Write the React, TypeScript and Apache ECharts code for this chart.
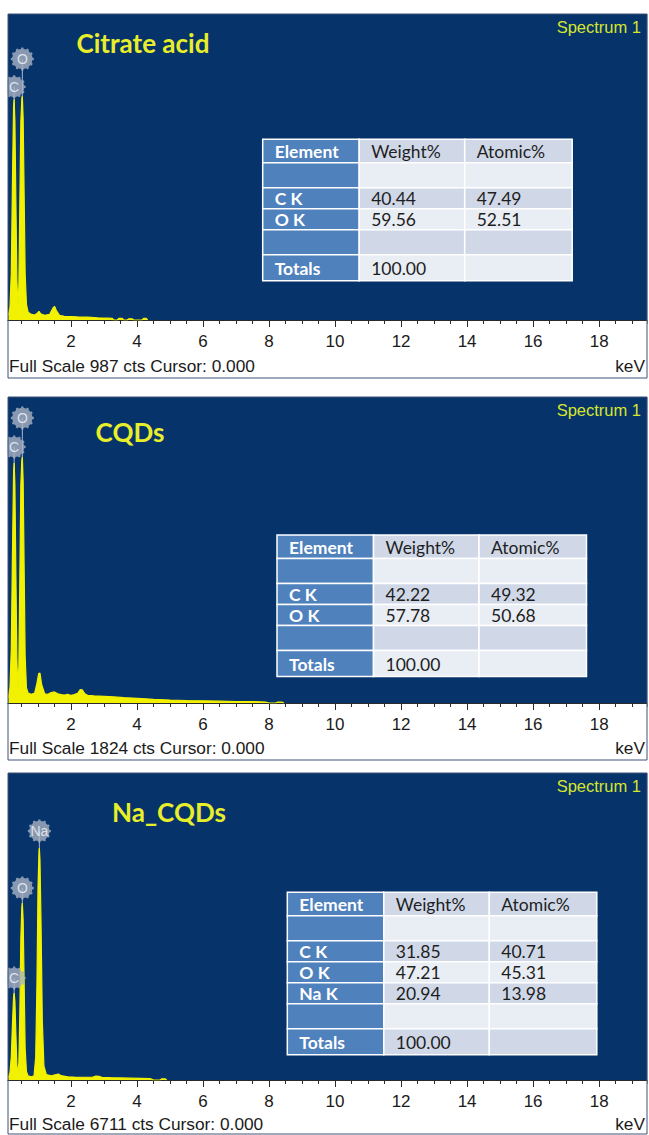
import React, { useEffect, useRef } from "react";
import * as echarts from "echarts";

// ---------------- DATA ----------------
const panelTitles = ["Citrate acid", "CQDs", "Na_CQDs"];
const fullScales = [987, 1824, 6711];
const xTicks = [2, 4, 6, 8, 10, 12, 14, 16, 18];
const X_MAX = 19.45;

// [keV, counts]
const citrateSpectrum: [number, number][] = [
  [0.1, 15], [0.15, 40], [0.19, 150], [0.23, 480], [0.26, 690], [0.277, 712], [0.3, 640], [0.33, 380],
  [0.36, 130], [0.39, 45], [0.42, 110], [0.45, 380], [0.48, 640], [0.51, 715], [0.525, 722], [0.55, 650],
  [0.58, 400], [0.61, 150], [0.65, 50], [0.7, 25], [0.8, 18], [0.9, 16], [0.98, 22], [1.03, 28],
  [1.08, 20], [1.2, 15], [1.35, 18], [1.45, 38], [1.5, 44], [1.56, 30], [1.65, 15], [1.8, 12],
  [2.0, 11], [2.2, 10], [2.5, 9], [2.8, 7], [3.1, 6], [3.25, 5], [3.3, 0], [3.4, 0], [3.45, 5],
  [3.55, 5], [3.6, 0], [3.7, 0], [3.75, 4], [3.85, 4], [3.9, 0], [4.15, 0], [4.2, 5], [4.28, 5], [4.32, 0],
];

const cqdSpectrum: [number, number][] = [
  [0.1, 30], [0.15, 90], [0.19, 320], [0.23, 950], [0.26, 1380], [0.277, 1430], [0.3, 1300], [0.33, 760],
  [0.36, 260], [0.39, 85], [0.42, 220], [0.45, 760], [0.48, 1300], [0.51, 1450], [0.525, 1466], [0.55, 1320],
  [0.58, 800], [0.61, 280], [0.65, 90], [0.7, 60], [0.8, 52], [0.9, 60], [0.97, 120], [1.02, 175],
  [1.06, 178], [1.11, 110], [1.2, 55], [1.3, 52], [1.4, 62], [1.5, 66], [1.6, 55], [1.7, 50],
  [1.8, 47], [1.9, 52], [2.0, 45], [2.1, 50], [2.2, 58], [2.28, 80], [2.34, 78], [2.42, 55],
  [2.5, 46], [2.7, 42], [3.0, 40], [3.3, 36], [3.6, 32], [4.0, 28], [4.5, 22], [5.0, 18],
  [5.5, 15], [6.0, 13], [6.5, 11], [7.0, 9], [7.5, 8], [7.9, 6], [8.0, 0], [8.2, 0], [8.25, 5], [8.4, 5], [8.45, 0],
];

const naCqdSpectrum: [number, number][] = [
  [0.1, 50], [0.15, 160], [0.19, 500], [0.23, 1300], [0.26, 1820], [0.277, 1900], [0.3, 1720], [0.33, 1000],
  [0.36, 320], [0.39, 130], [0.42, 380], [0.45, 1500], [0.48, 3100], [0.51, 3780], [0.525, 3870], [0.55, 3500],
  [0.58, 2100], [0.61, 700], [0.65, 180], [0.7, 90], [0.8, 70], [0.88, 90], [0.93, 500], [0.97, 2200],
  [1.0, 4200], [1.03, 5000], [1.041, 5070], [1.06, 4800], [1.09, 3500], [1.13, 1300], [1.18, 300], [1.25, 120],
  [1.4, 90], [1.55, 120], [1.62, 130], [1.7, 95], [1.9, 70], [2.1, 65], [2.4, 60], [2.65, 60],
  [2.75, 85], [2.85, 80], [2.95, 55], [3.2, 50], [3.5, 45], [3.8, 40], [4.1, 35], [4.4, 30], [4.5, 0],
  [4.7, 0], [4.75, 25], [4.85, 25], [4.9, 0],
];

const spectra = [citrateSpectrum, cqdSpectrum, naCqdSpectrum];

// element markers: [label, keV, marker height (cts)]
const citrateMarkers: [string, number, number][] = [["O", 0.525, 842], ["C", 0.277, 752]];
const cqdMarkers: [string, number, number][] = [["O", 0.525, 1699], ["C", 0.277, 1526]];
const naCqdMarkers: [string, number, number][] = [["Na", 1.041, 5443], ["O", 0.525, 4197], ["C", 0.277, 2230]];
const markers = [citrateMarkers, cqdMarkers, naCqdMarkers];

// tables: [element, weight%, atomic%]
const tableHeader = ["Element", "Weight%", "Atomic%"];
const citrateTable = [["C K", "40.44", "47.49"], ["O K", "59.56", "52.51"]];
const cqdTable = [["C K", "42.22", "49.32"], ["O K", "57.78", "50.68"]];
const naCqdTable = [["C K", "31.85", "40.71"], ["O K", "47.21", "45.31"], ["Na K", "20.94", "13.98"]];
const tables = [citrateTable, cqdTable, naCqdTable];
const totals = ["Totals", "100.00", ""];
const cursorText = "Cursor: 0.000";

// ---------------- LAYOUT ----------------
const layouts = [
  { blueTop: 14, axisY: 320, frameBottom: 378, fullY: 366, titleX: 143, titleY: 43, specY: 27, tableX: 262.7, tableY: 139.3 },
  { blueTop: 397, axisY: 703, frameBottom: 760, fullY: 748, titleX: 130, titleY: 432, specY: 410, tableX: 277, tableY: 535 },
  { blueTop: 773, axisY: 1080, frameBottom: 1134, fullY: 1124, titleX: 169, titleY: 812, specY: 786, tableX: 287.3, tableY: 892.3 },
];

const BLUE = "#07336b";
const YELLOW = "#f2f200";
const TITLE_YELLOW = "#e8ee2a";
const AXIS_COLOR = "#2a2a2a";

function gearPath(): string {
  const n = 12;
  const ro = 50;
  const ri = 44;
  const step = (2 * Math.PI) / n;
  const pts: string[] = [];
  for (let i = 0; i < n; i++) {
    const a = i * step;
    const w1 = step * 0.16;
    const w2 = step * 0.26;
    const seq: [number, number][] = [
      [a - w2, ri],
      [a - w1, ro],
      [a + w1, ro],
      [a + w2, ri],
    ];
    seq.forEach(([ang, r]) => {
      pts.push(`${(50 + r * Math.cos(ang)).toFixed(2)} ${(50 + r * Math.sin(ang)).toFixed(2)}`);
    });
  }
  return "path://M" + pts.join(" L") + " Z";
}

function buildTable(x0: number, y0: number, rows: string[][]) {
  const allRows = [tableHeader, ["", "", ""], ...rows, ["", "", ""], totals];
  const heights = [23.5, 25, ...rows.map(() => 21), 25, 26];
  const widths = [96.5, 105.5, 107.5];
  const els: any[] = [];
  let y = y0;
  allRows.forEach((r, ri) => {
    let x = x0;
    r.forEach((txt, ci) => {
      const fill = ci === 0 ? "#4f81bd" : ri % 2 === 0 ? "#d0d8e8" : "#e9edf4";
      els.push({
        type: "rect",
        z: 10,
        shape: { x, y, width: widths[ci], height: heights[ri] },
        style: { fill, stroke: "#ffffff", lineWidth: 1.5 },
      });
      if (txt) {
        els.push({
          type: "text",
          z: 11,
          x: x + 12,
          y: y + heights[ri] / 2 + 0.5,
          style: {
            text: txt,
            fill: ci === 0 ? "#ffffff" : "#1e1e1e",
            font: `${ci === 0 ? "bold " : ""}17.5px Lato`,
            align: "left",
            verticalAlign: "middle",
          },
        });
      }
      x += widths[ci];
    });
    y += heights[ri];
  });
  return els;
}

export default function App() {
  const ref = useRef<HTMLDivElement>(null);
  useEffect(() => {
    document.body.style.margin = "0";
    if (!ref.current) return;
    const chart = echarts.init(ref.current, undefined, { renderer: "svg" });
    const gear = gearPath();

    const graphic: any[] = [];
    layouts.forEach((l, i) => {
      graphic.push({
        type: "rect",
        z: 0,
        shape: { x: 8, y: l.blueTop, width: 639.5, height: l.axisY - l.blueTop },
        style: { fill: BLUE },
      });
      graphic.push({
        type: "rect",
        z: 20,
        shape: { x: 0, y: l.blueTop - 2, width: 7.5, height: l.frameBottom - l.blueTop + 4 },
        style: { fill: "#ffffff" },
      });
      graphic.push({
        type: "rect",
        z: 20,
        shape: { x: 647.5, y: l.blueTop - 2, width: 10, height: l.frameBottom - l.blueTop + 4 },
        style: { fill: "#ffffff" },
      });
      graphic.push({
        type: "rect",
        z: 21,
        shape: { x: 8, y: l.blueTop, width: 639, height: l.frameBottom - l.blueTop },
        style: { fill: "none", stroke: "#3d5378", lineWidth: 1 },
      });
      graphic.push({
        type: "text",
        z: 12,
        x: l.titleX,
        y: l.titleY,
        style: {
          text: panelTitles[i],
          fill: TITLE_YELLOW,
          font: "bold 26px Lato",
          align: "center",
          verticalAlign: "middle",
        },
      });
      graphic.push({
        type: "text",
        z: 12,
        x: 641,
        y: l.specY,
        style: {
          text: "Spectrum 1",
          fill: "#d6e62c",
          font: '16.5px "Liberation Sans"',
          align: "right",
          verticalAlign: "middle",
        },
      });
      graphic.push({
        type: "text",
        z: 22,
        x: 9,
        y: l.fullY,
        style: {
          text: `Full Scale ${fullScales[i]} cts ${cursorText}`,
          fill: "#1a1a1a",
          font: '17.3px "Liberation Sans"',
          align: "left",
          verticalAlign: "middle",
        },
      });
      graphic.push({
        type: "text",
        z: 22,
        x: 645,
        y: l.fullY,
        style: {
          text: "keV",
          fill: "#1a1a1a",
          font: '17.3px "Liberation Sans"',
          align: "right",
          verticalAlign: "middle",
        },
      });
      graphic.push(...buildTable(l.tableX, l.tableY, tables[i]));
    });

    const series: any[] = [];
    layouts.forEach((_, i) => {
      markers[i].forEach((m) => {
        series.push({
          type: "line",
          xAxisIndex: 2 * i,
          yAxisIndex: i,
          z: 4,
          silent: true,
          showSymbol: false,
          data: [
            [m[1], m[2]],
            [m[1], 0],
          ],
          lineStyle: { color: "#aeb8c8", width: 1 },
        });
      });
      series.push({
        type: "line",
        xAxisIndex: 2 * i,
        yAxisIndex: i,
        z: 5,
        showSymbol: false,
        silent: true,
        data: spectra[i],
        lineStyle: { color: YELLOW, width: 1.2 },
        areaStyle: { color: YELLOW, opacity: 1 },
      });
      series.push({
        type: "scatter",
        xAxisIndex: 2 * i,
        yAxisIndex: i,
        z: 6,
        silent: true,
        symbol: gear,
        symbolSize: 23,
        itemStyle: { color: "#a8b2c2" },
        label: {
          show: true,
          position: "inside",
          formatter: (p: any) => p.data[2],
          color: "#f4f6fa",
          fontSize: 14,
          fontFamily: "Liberation Sans",
        },
        data: markers[i].map((m) => [m[1], m[2], m[0]]),
      });
    });

    const xAxis: any[] = [];
    layouts.forEach((_, i) => {
      // major axis with labels
      xAxis.push({
        gridIndex: i,
        type: "value",
        position: "bottom",
        min: 0,
        max: X_MAX,
        interval: 2,
        z: 3,
        axisLine: { show: true, onZero: false, lineStyle: { color: AXIS_COLOR, width: 1 } },
        axisTick: { show: true, length: 7, lineStyle: { color: AXIS_COLOR } },
        splitLine: { show: false },
        axisLabel: {
          margin: 13,
          fontSize: 17,
          color: "#1a1a1a",
          fontFamily: "Liberation Sans",
          showMinLabel: false,
          showMaxLabel: false,
          formatter: (v: number) => (xTicks.includes(v) ? String(v) : ""),
        },
      });
      // minor ticks every 0.5 keV
      xAxis.push({
        gridIndex: i,
        type: "value",
        position: "bottom",
        offset: 0,
        min: 0,
        max: X_MAX,
        interval: 0.5,
        z: 3,
        axisLine: { show: false, onZero: false },
        axisTick: { show: true, length: 4, lineStyle: { color: AXIS_COLOR } },
        splitLine: { show: false },
        axisLabel: { show: false },
      });
    });

    chart.setOption({
      animation: false,
      grid: layouts.map((l) => ({
        left: 5,
        right: 2,
        top: l.blueTop,
        height: l.axisY - l.blueTop,
        show: false,
      })),
      xAxis,
      yAxis: layouts.map((_, i) => ({
        gridIndex: i,
        type: "value",
        min: 0,
        max: fullScales[i],
        show: false,
      })),
      graphic,
      series,
    });
    return () => chart.dispose();
  }, []);
  return <div ref={ref} style={{ width: 649, height: 1135 }} />;
}
